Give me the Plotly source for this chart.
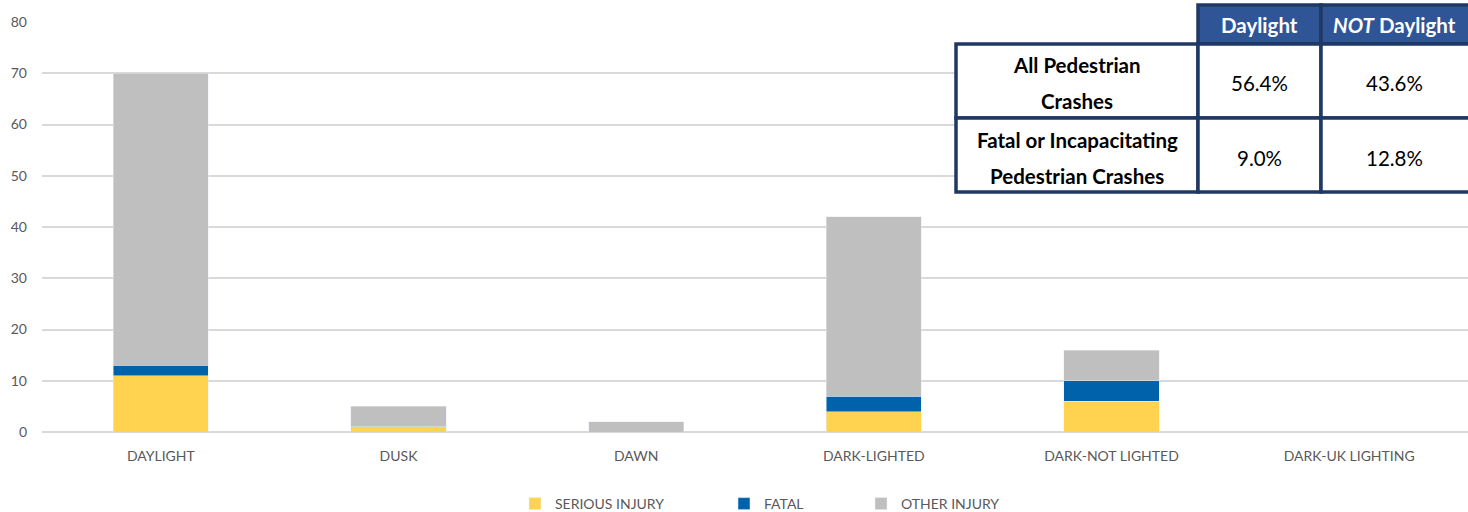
import plotly.graph_objects as go

categories = ["DAYLIGHT", "DUSK", "DAWN", "DARK-LIGHTED", "DARK-NOT LIGHTED", "DARK-UK LIGHTING"]
serious_injury = [11, 1, 0, 4, 6, 0]
fatal = [2, 0, 0, 3, 4, 0]
other_injury = [57, 4, 2, 35, 6, 0]

table_cols = ["Daylight", "<i>NOT</i> Daylight"]
table_rows = [["All Pedestrian", "Crashes"], ["Fatal or Incapacitating", "Pedestrian Crashes"]]
table_vals = [["56.4%", "43.6%"], ["9.0%", "12.8%"]]

W, H = 1468, 512
L, R, T, B = 42, 0, 22, 80
FONT = "Lato"
TXT = "#595959"

def px(x):
    return (x - L) / (W - L - R)

def py(y):
    return (H - B - y) / (H - T - B)

fig = go.Figure()
fig.add_bar(x=categories, y=serious_injury, name="SERIOUS INJURY", marker_color="#FFD34F",
            legend="legend", showlegend=True)
fig.add_bar(x=categories, y=fatal, name="FATAL", marker_color="#0062AA", legend="legend2", showlegend=True)
fig.add_bar(x=categories, y=other_injury, name="OTHER INJURY", marker_color="#BFBFBF",
            legend="legend3", showlegend=True)

navy = "#1F3864"
blue = "#2F5597"
shapes = []
annots = []
# white backing to hide gridlines under the table
shapes.append(dict(type="rect", xref="paper", yref="paper", x0=px(955), x1=px(1470), y0=py(195), y1=py(0),
                   fillcolor="white", line=dict(width=0), layer="above"))
# header cells
hx = [(1198, 1321), (1321, 1471)]
for (x0, x1), lab in zip(hx, table_cols):
    shapes.append(dict(type="rect", xref="paper", yref="paper", x0=px(x0), x1=px(x1),
                       y0=py(44), y1=py(5), fillcolor=blue, line=dict(color=navy, width=3.5), layer="above"))
    annots.append(dict(xref="paper", yref="paper", x=px((x0 + min(x1, 1468)) / 2), y=py(25),
                       text=f"<b>{lab}</b>", showarrow=False,
                       font=dict(family=FONT, size=20.5, color="white"), xanchor="center", yanchor="middle"))
# body cells
bx = [(956, 1198), (1198, 1321), (1321, 1471)]
by = [(44, 118), (118, 192)]
row_centers = [83, 158]
for ri, (y0, y1) in enumerate(by):
    for ci, (x0, x1) in enumerate(bx):
        shapes.append(dict(type="rect", xref="paper", yref="paper", x0=px(x0), x1=px(x1),
                           y0=py(y1), y1=py(y0), fillcolor="white", line=dict(color=navy, width=3.5), layer="above"))
        xc = px((x0 + min(x1, 1468)) / 2)
        if ci == 0:
            for li, line in enumerate(table_rows[ri]):
                yc = row_centers[ri] + (-18 if li == 0 else 18)
                annots.append(dict(xref="paper", yref="paper", x=xc, y=py(yc), text=f"<b>{line}</b>",
                                   showarrow=False, font=dict(family=FONT, size=20.5, color="black"),
                                   xanchor="center", yanchor="middle"))
        else:
            annots.append(dict(xref="paper", yref="paper", x=xc, y=py(row_centers[ri]),
                               text=table_vals[ri][ci - 1], showarrow=False,
                               font=dict(family=FONT, size=20.5, color="black"),
                               xanchor="center", yanchor="middle"))

leg_common = dict(orientation="h", yref="container", y=1 - 504 / H, yanchor="middle", xref="container",
                  xanchor="left", font=dict(family=FONT, size=14, color=TXT), bgcolor="rgba(0,0,0,0)",
                  itemwidth=30)

fig.update_layout(
    width=W, height=H, barmode="stack", bargap=0.6, showlegend=True,
    margin=dict(l=L, r=R, t=T, b=B),
    plot_bgcolor="white", paper_bgcolor="white",
    font=dict(family=FONT, size=14, color=TXT),
    xaxis=dict(showgrid=False, showline=False, ticks="", ticklabelstandoff=14,
               tickfont=dict(size=14, color=TXT)),
    yaxis=dict(range=[0, 80], dtick=10, showgrid=True, gridcolor="#D9D9D9", gridwidth=1.5,
               zeroline=True, zerolinecolor="#D9D9D9", zerolinewidth=1.5, ticks="", ticklabelstandoff=14,
               tickfont=dict(size=14, color=TXT)),
    legend=dict(leg_common, x=(527 - 12) / W),
    legend2=dict(leg_common, x=(736 - 12) / W),
    legend3=dict(leg_common, x=(873 - 12) / W),
    shapes=shapes, annotations=annots,
)
fig.write_html("out.html", config={"displayModeBar": False},
               post_script="document.body.style.margin='0';")
